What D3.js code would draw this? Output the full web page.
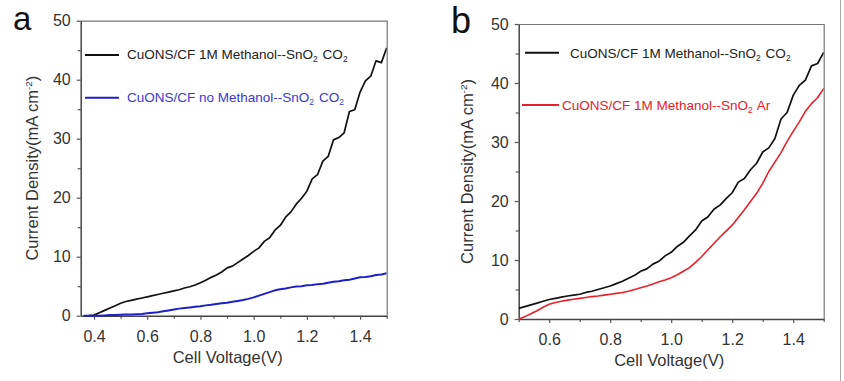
<!DOCTYPE html>
<html><head><meta charset="utf-8">
<script src="https://cdn.jsdelivr.net/npm/d3@7"></script>
<style>
html,body{margin:0;padding:0;background:#fff;}
svg{display:block;font-family:Arial,"Liberation Sans",sans-serif;}
</style></head>
<body><svg id="c" width="844" height="381"></svg>
<script>
// ---------- DATA ----------
const yTicks = [0,10,20,30,40,50];
const yMinor = [5,15,25,35,45];
const xTicksA = [0.4,0.6,0.8,1.0,1.2,1.4];
const xMinorA = [0.5,0.7,0.9,1.1,1.3,1.5];
const xTicksB = [0.6,0.8,1.0,1.2,1.4];
const xMinorB = [0.5,0.7,0.9,1.1,1.3,1.5];

// Panel a
const vA_black = [0.38,0.40,0.42,0.44,0.46,0.48,0.50,0.52,0.54,0.56,0.58,0.60,0.62,0.64,0.66,0.68,0.70,0.72,0.74,0.76,0.78,0.80,0.82,0.84,0.86,0.88,0.90,0.92,0.94,0.96,0.98,1.00,1.02,1.04,1.06,1.08,1.10,1.12,1.14,1.16,1.18,1.20,1.22,1.24,1.26,1.28,1.30,1.32,1.34,1.36,1.38,1.40,1.42,1.44,1.46,1.48,1.50];
const jA_black = [0.0,0.1,0.5,0.9,1.3,1.7,2.1,2.4,2.6,2.8,3.0,3.2,3.4,3.6,3.8,4.0,4.2,4.4,4.7,4.9,5.2,5.6,6.0,6.5,6.9,7.4,8.1,8.4,9.0,9.6,10.2,10.9,11.5,12.6,13.2,14.5,15.3,16.7,17.6,18.9,19.9,21.1,23.2,23.9,26.2,27.0,29.8,30.2,31.0,34.6,34.9,37.9,39.8,40.6,43.2,42.9,45.4];
const vA_blue = [0.36,0.38,0.40,0.42,0.44,0.46,0.48,0.50,0.52,0.54,0.56,0.58,0.60,0.62,0.64,0.66,0.68,0.70,0.72,0.74,0.76,0.78,0.80,0.82,0.84,0.86,0.88,0.90,0.92,0.94,0.96,0.98,1.00,1.02,1.04,1.06,1.08,1.10,1.12,1.14,1.16,1.18,1.20,1.22,1.24,1.26,1.28,1.30,1.32,1.34,1.36,1.38,1.40,1.42,1.44,1.46,1.48,1.50];
const jA_blue = [0.0,0.0,0.0,0.0,0.05,0.1,0.1,0.15,0.2,0.2,0.25,0.3,0.4,0.5,0.6,0.75,0.9,1.05,1.2,1.3,1.4,1.5,1.6,1.75,1.85,2.0,2.1,2.2,2.35,2.5,2.65,2.85,3.1,3.4,3.7,4.0,4.3,4.5,4.6,4.8,4.95,5.0,5.15,5.2,5.35,5.4,5.6,5.75,5.85,6.0,6.1,6.3,6.5,6.55,6.7,6.9,7.0,7.2];

// Panel b
const vB = [0.50,0.52,0.54,0.56,0.58,0.60,0.62,0.64,0.66,0.68,0.70,0.72,0.74,0.76,0.78,0.80,0.82,0.84,0.86,0.88,0.90,0.92,0.94,0.96,0.98,1.00,1.02,1.04,1.06,1.08,1.10,1.12,1.14,1.16,1.18,1.20,1.22,1.24,1.26,1.28,1.30,1.32,1.34,1.36,1.38,1.40,1.42,1.44,1.46,1.48,1.50];
const jB_black = [1.8,2.1,2.4,2.7,3.0,3.3,3.5,3.7,3.9,4.05,4.2,4.5,4.7,5.0,5.3,5.6,6.0,6.4,6.9,7.4,8.1,8.5,9.3,9.8,10.7,11.3,12.3,13.0,14.1,15.1,16.6,17.3,18.6,19.3,20.4,21.4,23.2,23.8,25.3,26.4,28.3,29.0,30.6,33.9,35.0,37.9,39.6,40.5,42.9,43.3,45.2];
const jB_red = [0.0,0.4,0.9,1.4,2.0,2.5,2.8,3.0,3.2,3.35,3.5,3.65,3.8,3.9,4.05,4.2,4.35,4.5,4.7,5.0,5.3,5.6,5.95,6.3,6.6,7.0,7.5,8.1,8.7,9.6,10.6,11.7,12.8,13.9,14.9,15.9,17.2,18.5,19.9,21.3,23.0,25.0,26.6,28.2,30.1,31.8,33.4,35.2,36.5,37.5,39.1];

const legendA = ["CuONS/CF 1M Methanol--SnO|2| CO|2|", "CuONS/CF no Methanol--SnO|2| CO|2|"];
const legendB = ["CuONS/CF 1M Methanol--SnO|2| CO|2|", "CuONS/CF 1M Methanol--SnO|2| Ar"];
const colBlack = "#111111", colBlue = "#2020c8", colRed = "#e8202a";

// ---------- DRAW ----------
const svg = d3.select("#c");
svg.append("line").attr("x1",840.5).attr("x2",840.5).attr("y1",0).attr("y2",381).attr("stroke","#aaa").attr("stroke-width",1);

function richText(sel, str){
  const parts = str.split("|");
  parts.forEach((p,i)=>{
    if(!p) return;
    if(i%2===1){
      sel.append("tspan").attr("dy",3).attr("font-size","0.62em").text(p);
      sel.append("tspan").attr("dy",-3).text("\u200A");
    } else sel.append("tspan").text(p);
  });
}

function panel(cfg){
  const g = svg.append("g");
  const x = d3.scaleLinear().domain(cfg.xd).range([cfg.l, cfg.r]);
  const y = d3.scaleLinear().domain([0,50]).range([cfg.b, cfg.t]);
  g.append("path").attr("d",`M${cfg.l},${cfg.t+0.5}H${cfg.r+0.5}V${cfg.b}`).attr("fill","none").attr("stroke","#777").attr("stroke-width",1.2);
  const xm = g.append("g").attr("transform",`translate(0,${cfg.b})`).call(d3.axisBottom(x).tickValues(cfg.xMinor).tickSize(3).tickFormat(""));
  const ym = g.append("g").attr("transform",`translate(${cfg.l},0)`).call(d3.axisLeft(y).tickValues(yMinor).tickSize(3).tickFormat(""));
  [xm,ym].forEach(a=>{a.select(".domain").remove(); a.selectAll("line").attr("stroke","#555").attr("stroke-width",1.2);});
  const xa = g.append("g").attr("transform",`translate(0,${cfg.b})`).call(d3.axisBottom(x).tickValues(cfg.xTicks).tickSize(4).tickSizeOuter(0).tickPadding(11).tickFormat(d3.format(".1f")));
  const ya = g.append("g").attr("transform",`translate(${cfg.l},0)`).call(d3.axisLeft(y).tickValues(yTicks).tickSize(4).tickSizeOuter(0).tickPadding(6).tickFormat(d3.format("d")));
  [xa,ya].forEach(a=>{
    a.select(".domain").attr("stroke","#444").attr("stroke-width",1.5);
    a.selectAll(".tick line").attr("stroke","#555").attr("stroke-width",1.2);
    a.selectAll("text").attr("font-size",16).attr("fill","#333").attr("font-family","Arial,'Liberation Sans',sans-serif");
  });
  const cid = "clip"+cfg.id;
  svg.append("clipPath").attr("id",cid).append("rect").attr("x",cfg.l).attr("y",cfg.t).attr("width",cfg.r-cfg.l).attr("height",cfg.b-cfg.t+2);
  const line = d3.line().x(d=>x(d[0])).y(d=>y(d[1]));
  cfg.series.forEach(s=>{
    g.append("path").datum(s.v.map((v,i)=>[v,s.j[i]])).attr("d",line).attr("fill","none")
      .attr("stroke",s.c).attr("stroke-width",s.w).attr("stroke-linejoin","round").attr("clip-path",`url(#${cid})`);
  });
  cfg.legend.forEach((L,i)=>{
    g.append("line").attr("x1",L.x1).attr("x2",L.x2).attr("y1",L.y).attr("y2",L.y).attr("stroke",L.c).attr("stroke-width",2);
    const t = g.append("text").attr("x",L.tx).attr("y",L.ty).attr("font-size",13.5).attr("fill",L.tc);
    richText(t, L.text);
  });
  g.append("text").attr("x",(cfg.l+cfg.r)/2 + cfg.xtOff).attr("y",cfg.xtY).attr("text-anchor","middle").attr("font-size",16.5).attr("fill","#333").text("Cell Voltage(V)");
  const yt = g.append("text").attr("transform",`translate(${cfg.ytX},${(cfg.t+cfg.b)/2}) rotate(-90)`).attr("text-anchor","middle").attr("font-size",16.5).attr("fill","#333");
  yt.append("tspan").text("Current Density(mA cm");
  yt.append("tspan").attr("dy",-6).attr("font-size","0.6em").text("-2");
  yt.append("tspan").attr("dy",6).text(")");
  g.append("text").attr("x",cfg.lab.x).attr("y",cfg.lab.y).attr("font-size",cfg.lab.s).attr("fill","#111").text(cfg.lab.t);
}

panel({id:"a", xd:[0.35,1.5], l:80.7, r:386.7, t:20.7, b:315.7, xTicks:xTicksA, xMinor:xMinorA,
  series:[{v:vA_black,j:jA_black,c:colBlack,w:1.7},{v:vA_blue,j:jA_blue,c:colBlue,w:2}],
  legend:[{x1:85,x2:119,y:55,c:colBlack,tx:127,ty:58.5,tc:"#222",text:legendA[0]},
          {x1:85,x2:119,y:97.7,c:colBlue,tx:127,ty:101.5,tc:"#3a3ad0",text:legendA[1]}],
  xtOff:-6, xtY:363, ytX:38, lab:{x:13,y:30,s:33,t:"a"}});

panel({id:"b", xd:[0.5,1.5], l:518.7, r:823.7, t:24, b:319, xTicks:xTicksB, xMinor:xMinorB,
  series:[{v:vB,j:jB_black,c:colBlack,w:1.7},{v:vB,j:jB_red,c:colRed,w:1.6}],
  legend:[{x1:525,x2:559,y:52.7,c:colBlack,tx:570,ty:58,tc:"#222",text:legendB[0]},
          {x1:522,x2:559,y:105,c:colRed,tx:562,ty:109.5,tc:colRed,text:legendB[1]}],
  xtOff:-2, xtY:366, ytX:473, lab:{x:451,y:33,s:36,t:"b"}});
</script></body></html>
